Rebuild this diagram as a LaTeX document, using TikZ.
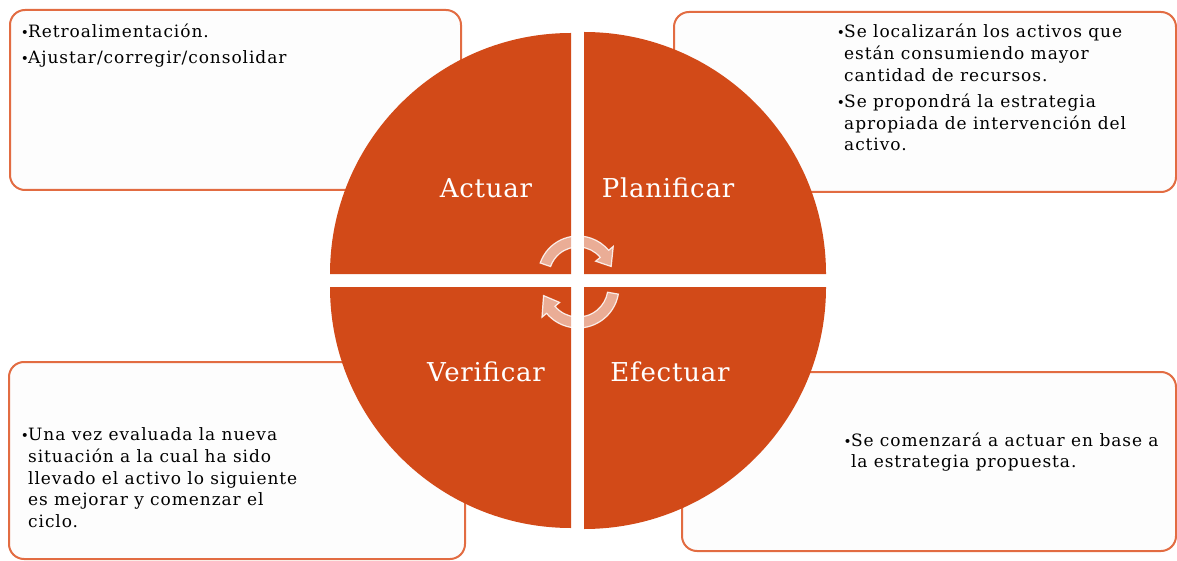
\documentclass[tikz,border=0pt]{standalone}
\usepackage{fontspec}
\setmainfont{DejaVu Serif}[LetterSpace=5.5]
\newfontfamily\labfont{DejaVu Serif}[LetterSpace=3]
\usepackage{graphicx}
\definecolor{circ}{RGB}{210,74,24}
\definecolor{boxline}{RGB}{226,108,66}
\definecolor{boxfill}{RGB}{253,253,253}
\newcommand{\bitem}[1]{\par\hangindent=7.3pt\hangafter=1\noindent\makebox[7.3pt][l]{\scalebox{0.8}{•}}#1\par}
\newcommand{\boxtext}[2]{\begin{minipage}[t]{#1}\fontsize{17}{21.7}\selectfont\setlength{\parskip}{4.5pt}#2\end{minipage}}
\tikzset{
  infobox/.style={draw=boxline, fill=boxfill, line width=2pt, rounded corners=15pt},
  quad/.style={fill=circ, draw=none},
  lab/.style={text=white, font=\labfont\fontsize{26}{30}\selectfont, anchor=base, inner sep=0pt},
  txt/.style={anchor=base west, inner sep=0pt, text=black},
  cyc/.style={fill=white, fill opacity=0.55, draw=white, draw opacity=0.85, line width=1.2pt}
}
\begin{document}
\begin{tikzpicture}[x=1pt,y=1pt]
\useasboundingbox (0,0) rectangle (1177,-561);
% boxes
\draw[infobox] (10,-10) rectangle (461,-190);
\draw[infobox] (674,-12) rectangle (1176,-192);
\draw[infobox] (9,-362) rectangle (465,-559);
\draw[infobox] (682,-372) rectangle (1176,-551);
% circle quadrants
\fill[quad] (571,-274) -- ++(180:241) arc[start angle=180, end angle=90, radius=241] -- cycle;
\fill[quad] (584,-274) -- ++(90:242) arc[start angle=90, end angle=0, radius=242] -- cycle;
\fill[quad] (571,-287) -- ++(270:241) arc[start angle=270, end angle=180, radius=241] -- cycle;
\fill[quad] (584,-287) -- ++(0:242) arc[start angle=0, end angle=-90, radius=242] -- cycle;
% labels
\node[lab] (actuar) at (486,-197.3) {Actuar};
\node[lab] (planificar) at (668,-197.3) {Planificar};
\node[lab] (verificar) at (486,-381.7) {Verificar};
\node[lab] (efectuar) at (670,-381.7) {Efectuar};
% cycle arrows
\begin{scope}[shift={(578,-276)}]
\path[cyc] (161:40) arc[start angle=161, end angle=40, radius=40] -- (40:46) -- (16:34.5) -- (40:23) -- (40:29) arc[start angle=40, end angle=161, radius=29] -- cycle;
\end{scope}
\begin{scope}[shift={(578,-287)}]
\path[cyc] (-10:41) arc[start angle=-10, end angle=-140, radius=41] -- (-140:47) -- (-166:35.5) -- (-140:24) -- (-140:30) arc[start angle=-140, end angle=-10, radius=30] -- cycle;
\end{scope}
% texts
\node[txt] (ttl) at (20.7,-37.7) {\boxtext{420pt}{%
\bitem{Retroalimentación.}%
\bitem{Ajustar/corregir/consolidar}}};
\node[txt] (ttr) at (836.7,-38) {\boxtext{330pt}{%
\bitem{Se localizarán los activos que\newline están consumiendo mayor\newline cantidad de recursos.}%
\bitem{Se propondrá la estrategia\newline apropiada de intervención del\newline activo.}}};
\node[txt] (tbl) at (20.7,-440.7) {\boxtext{420pt}{%
\bitem{Una vez evaluada la nueva\newline situación a la cual ha sido\newline llevado el activo lo siguiente\newline es mejorar y comenzar el\newline ciclo.}}};
\node[txt] (tbr) at (843.5,-446) {\boxtext{330pt}{%
\bitem{Se comenzará a actuar en base a\newline la estrategia propuesta.}}};
\end{tikzpicture}
\end{document}
